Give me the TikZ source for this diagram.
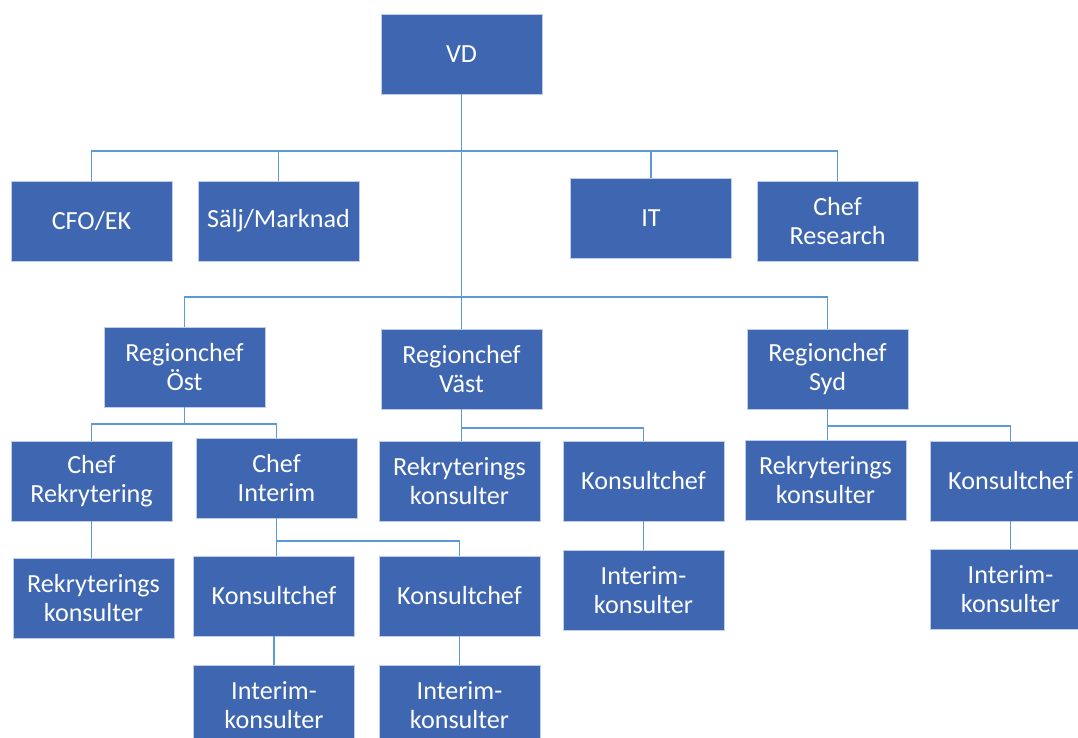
\documentclass[tikz,border=0pt]{standalone}
\usepackage{fontspec}
\setmainfont{Carlito}
\usetikzlibrary{positioning}
\definecolor{boxblue}{RGB}{63,103,177}
\definecolor{linkblue}{RGB}{91,155,213}
\definecolor{rimblue}{RGB}{190,205,235}
\tikzset{
  unit/.style={rectangle, fill=boxblue, draw=rimblue, line width=0.6pt,
    text=white, minimum width=120.75pt, minimum height=60pt, inner sep=0pt,
    align=center, font=\fontsize{19.6}{21.75}\selectfont},
  link/.style={draw=linkblue, line width=0.8pt}
}

\begin{document}
\begin{tikzpicture}[x=0.75pt, y=-0.75pt]
  \path[use as bounding box, clip] (0,0) rectangle (1078,738);
  % top
  \node[unit] (vd) at (461.5,54) {VD};
  % staff
  \node[unit] (cfo) at (91.5,221) {CFO/EK};
  \node[unit] (salj) at (278.5,221) {Sälj/Marknad};
  \node[unit] (it) at (651,218) {IT};
  \node[unit] (research) at (837.5,221) {Chef\\Research};
  % regions
  \node[unit] (ost) at (184.5,367) {Regionchef\\Öst};
  \node[unit] (vast) at (461.5,369) {Regionchef\\Väst};
  \node[unit] (syd) at (827.5,369) {Regionchef\\Syd};
  % under Öst
  \node[unit] (chefrek) at (91.5,481) {Chef\\Rekrytering};
  \node[unit] (chefint) at (276.5,478) {Chef\\Interim};
  \node[unit] (rekost) at (93.5,598) {Rekryterings\\konsulter};
  \node[unit] (kcost1) at (274,596) {Konsultchef};
  \node[unit] (kcost2) at (459.5,596) {Konsultchef};
  \node[unit] (intost1) at (274,705) {Interim-\\konsulter};
  \node[unit] (intost2) at (459.5,705) {Interim-\\konsulter};
  % under Väst
  \node[unit] (rekvast) at (459.5,481) {Rekryterings\\konsulter};
  \node[unit] (kcvast) at (643.5,481) {Konsultchef};
  \node[unit] (intvast) at (643.5,590) {Interim-\\konsulter};
  % under Syd
  \node[unit] (reksyd) at (825.5,480) {Rekryterings\\konsulter};
  \node[unit] (kcsyd) at (1010.5,481) {Konsultchef};
  \node[unit] (intsyd) at (1010.5,589) {Interim-\\konsulter};

  % bar heights
  \coordinate (stafbar) at (461,151);
  \coordinate (regbar) at (461,297);
  \coordinate (ostbar) at (184,424);
  \coordinate (vastbar) at (461,428);
  \coordinate (sydbar) at (827,426);
  \coordinate (intbar) at (277,541);

  % VD to staff and regions
  \draw[link] (vd.south) -- (vd.south |- regbar);
  \draw[link] (cfo.north) -- (cfo.north |- stafbar) -- (research.north |- stafbar) -- (research.north);
  \draw[link] (salj.north) -- (salj.north |- stafbar);
  \draw[link] (it.north) -- (it.north |- stafbar);
  \draw[link] (ost.north) -- (ost.north |- regbar) -- (syd.north |- regbar) -- (syd.north);
  \draw[link] (vast.north) -- (vast.north |- regbar);
  % Öst
  \draw[link] (ost.south) -- (ost.south |- ostbar);
  \draw[link] (chefrek.north) -- (chefrek.north |- ostbar) -- (chefint.north |- ostbar) -- (chefint.north);
  \draw[link] (chefrek.south) -- (chefrek.south |- rekost.north);
  \draw[link] (chefint.south) -- (chefint.south |- kcost1.north);
  \draw[link] (chefint.south |- intbar) -- (kcost2.north |- intbar) -- (kcost2.north);
  \draw[link] (kcost1.south) -- (intost1.north);
  \draw[link] (kcost2.south) -- (intost2.north);
  % Väst
  \draw[link] (vast.south) -- (vast.south |- rekvast.north);
  \draw[link] (vast.south |- vastbar) -- (kcvast.north |- vastbar) -- (kcvast.north);
  \draw[link] (kcvast.south) -- (intvast.north);
  % Syd
  \draw[link] (syd.south) -- (syd.south |- reksyd.north);
  \draw[link] (syd.south |- sydbar) -- (kcsyd.north |- sydbar) -- (kcsyd.north);
  \draw[link] (kcsyd.south) -- (intsyd.north);
\end{tikzpicture}
\end{document}
